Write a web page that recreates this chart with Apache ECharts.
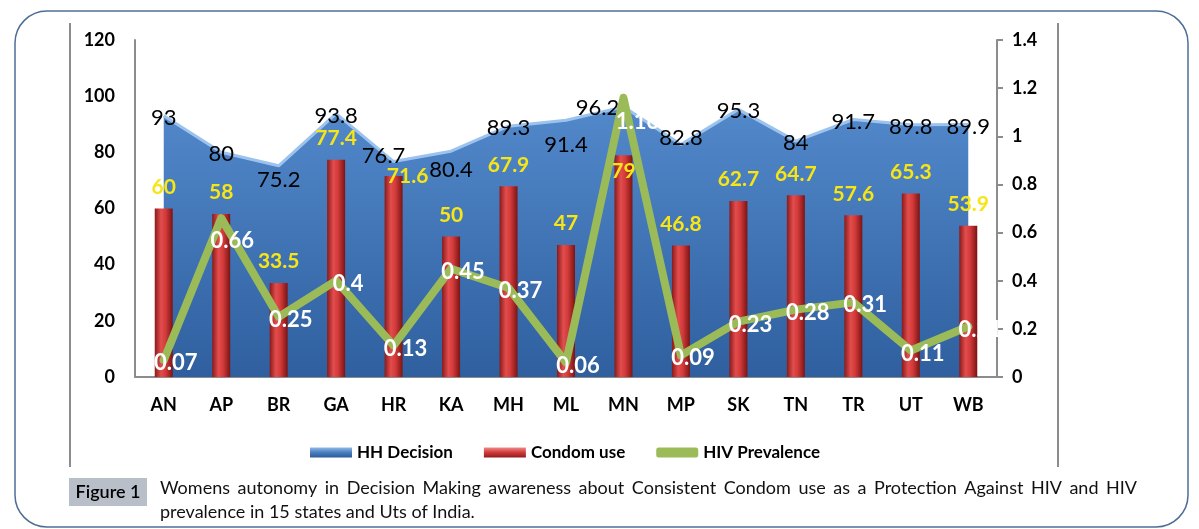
<!DOCTYPE html>
<html>
<head>
<meta charset="utf-8">
<script src="https://cdn.jsdelivr.net/npm/echarts@6/dist/echarts.min.js"></script>
<style>
html,body{margin:0;padding:0;background:#fff;}
#chart{width:1199px;height:529px;}
</style>
</head>
<body>
<div id="chart"></div>
<script>
const categories = ['AN','AP','BR','GA','HR','KA','MH','ML','MN','MP','SK','TN','TR','UT','WB'];
const hhDecision = [93, 80, 75.2, 93.8, 76.7, 80.4, 89.3, 91.4, 96.2, 82.8, 95.3, 84, 91.7, 89.8, 89.9];
const condomUse = [60, 58, 33.5, 77.4, 71.6, 50, 67.9, 47, 79, 46.8, 62.7, 64.7, 57.6, 65.3, 53.9];
const hivPrevalence = [0.07, 0.66, 0.25, 0.4, 0.13, 0.45, 0.37, 0.06, 1.16, 0.09, 0.23, 0.28, 0.31, 0.11, 0.21];
const leftTicks = {min: 0, max: 120, interval: 20};
const rightTicks = {min: 0, max: 1.4, interval: 0.2};
const seriesNames = ['HH Decision', 'Condom use', 'HIV Prevalence'];
const captionTag = 'Figure 1';
const captionLine1 = 'Womens autonomy in Decision Making awareness about Consistent Condom use as a Protection Against HIV and HIV';
const captionLine2 = 'prevalence in 15 states and Uts of India.';

const FONT = 'Lato';

// label layout tweaks (positions only)
const hhOffsets = {2: [0, 14], 4: [-10, -6], 5: [0, 19], 7: [0, 25], 8: [-26, 1], 9: [0, -7]};
const condomOffsets = {4: [14, 22], 8: [0, 38]};
const hivOffsets = {1: [11, 23], 8: [14, 24]};

const hhData = hhDecision.map((v, i) => hhOffsets[i] ? {value: v, label: {offset: hhOffsets[i]}} : v);
const condomData = condomUse.map((v, i) => condomOffsets[i] ? {value: v, label: {offset: condomOffsets[i]}} : v);
const hivData = hivPrevalence.map((v, i) => hivOffsets[i] ? {value: v, label: {offset: hivOffsets[i]}} : v);

// justified caption first line: place words across the text block width
const capFont = '18px ' + FONT;
const capLeft = 160, capRight = 1137;
const measureCtx = document.createElement('canvas').getContext('2d');
measureCtx.font = capFont;
const words = captionLine1.split(' ');
const wordWidths = words.map(w => measureCtx.measureText(w).width);
const totalW = wordWidths.reduce((a, b) => a + b, 0);
const gap = (capRight - capLeft - totalW) / (words.length - 1);
const captionWords = [];
let cx = capLeft;
words.forEach((w, i) => {
  captionWords.push({type: 'text', x: cx, y: 488, style: {text: w, fill: '#111', font: capFont, align: 'left', verticalAlign: 'middle'}, silent: true});
  cx += wordWidths[i] + gap;
});

const chart = echarts.init(document.getElementById('chart'));
const option = {
  animation: false,
  textStyle: {fontFamily: FONT},
  grid: {left: 135, right: 202, top: 40, bottom: 152, containLabel: false},
  legend: {
    left: 305, top: 439,
    itemWidth: 42, itemHeight: 10, itemGap: 31,
    textStyle: {fontFamily: FONT, fontSize: 17, fontWeight: 'bold', color: '#000'},
    data: [
      {name: seriesNames[0], icon: 'rect', itemStyle: {color: new echarts.graphic.LinearGradient(0,0,0,1,[{offset:0,color:'#8fb8e8'},{offset:0.5,color:'#4a7ebf'},{offset:1,color:'#2c5a98'}])}},
      {name: seriesNames[1], icon: 'rect', itemStyle: {color: new echarts.graphic.LinearGradient(0,0,0,1,[{offset:0,color:'#f08a8a'},{offset:0.5,color:'#d23a3a'},{offset:1,color:'#8e1c1c'}])}},
      {name: seriesNames[2], icon: 'roundRect', itemStyle: {color: '#9bbb59'}}
    ]
  },
  xAxis: {
    type: 'category',
    data: categories,
    boundaryGap: true,
    axisLine: {show: true, lineStyle: {color: '#8c8c8c', width: 2}},
    axisTick: {show: false},
    axisLabel: {color: '#000', fontSize: 18, fontWeight: 'bold', margin: 19, fontFamily: FONT},
    splitLine: {show: false}
  },
  yAxis: [
    {
      type: 'value', min: leftTicks.min, max: leftTicks.max, interval: leftTicks.interval,
      axisLine: {show: true, lineStyle: {color: '#8c8c8c', width: 2}},
      axisTick: {show: false},
      axisLabel: {color: '#000', fontSize: 18, fontWeight: 'bold', margin: 20, fontFamily: FONT},
      splitLine: {show: false}
    },
    {
      type: 'value', min: rightTicks.min, max: rightTicks.max, interval: rightTicks.interval,
      position: 'right',
      axisLine: {show: true, lineStyle: {color: '#8c8c8c', width: 2}},
      axisTick: {show: true, length: 6, lineStyle: {color: '#8c8c8c', width: 2}},
      axisLabel: {color: '#000', fontSize: 18, fontWeight: 'bold', margin: 15, fontFamily: FONT,
        formatter: v => String(Math.round(v * 10) / 10)},
      splitLine: {show: false}
    }
  ],
  series: [
    {
      name: seriesNames[0], type: 'line', yAxisIndex: 0, data: hhData,
      z: 1,
      symbol: 'circle', symbolSize: 0, showSymbol: true,
      lineStyle: {color: '#9cc3ee', width: 3},
      itemStyle: {color: '#4a7ebf'},
      areaStyle: {opacity: 1, color: new echarts.graphic.LinearGradient(0,0,0,1,[{offset:0,color:'#5289cb'},{offset:1,color:'#2f5f9f'}])},
      label: {show: true, position: 'inside', offset: [0, 2], color: '#000', fontSize: 22, fontFamily: FONT}
    },
    {
      name: seriesNames[1], type: 'bar', yAxisIndex: 0, data: condomData,
      z: 2,
      barWidth: 18,
      itemStyle: {color: new echarts.graphic.LinearGradient(0,0,1,0,[{offset:0,color:'#8a1a1a'},{offset:0.35,color:'#e24d4d'},{offset:0.6,color:'#d43a3a'},{offset:1,color:'#7a1414'}])},
      label: {show: true, position: 'top', distance: 11, color: '#f7e516', fontSize: 21, fontWeight: 'bold', fontFamily: FONT}
    },
    {
      name: seriesNames[2], type: 'line', yAxisIndex: 1, data: hivData,
      z: 3,
      symbol: 'circle', symbolSize: 0, showSymbol: true,
      lineStyle: {color: '#9bbb59', width: 8, cap: 'round', join: 'round'},
      itemStyle: {color: '#9bbb59'},
      label: {show: true, position: 'inside', offset: [12, 3], color: '#fff', fontSize: 22, fontWeight: 'bold', fontFamily: FONT}
    }
  ],
  graphic: [
    {type: 'rect', shape: {x: 15, y: 11, width: 1173, height: 516, r: 32}, style: {fill: 'none', stroke: '#4f6d96', lineWidth: 1.5}, silent: true, z: -10},
    {type: 'line', shape: {x1: 70, y1: 23, x2: 70, y2: 467}, style: {stroke: '#8c8c8c', lineWidth: 2}, silent: true},
    {type: 'line', shape: {x1: 1058, y1: 23, x2: 1058, y2: 467}, style: {stroke: '#8c8c8c', lineWidth: 2}, silent: true},
    {type: 'rect', shape: {x: 69, y: 478, width: 78, height: 28}, style: {fill: '#b8bfc9'}, silent: true},
    {type: 'text', x: 108, y: 492, style: {text: captionTag, fill: '#000', font: '600 18px ' + FONT, align: 'center', verticalAlign: 'middle'}, silent: true},
    ...captionWords,
    {type: 'text', x: capLeft, y: 512, style: {text: captionLine2, fill: '#111', font: capFont, align: 'left', verticalAlign: 'middle'}, silent: true}
  ]
};
chart.setOption(option);
</script>
</body>
</html>
